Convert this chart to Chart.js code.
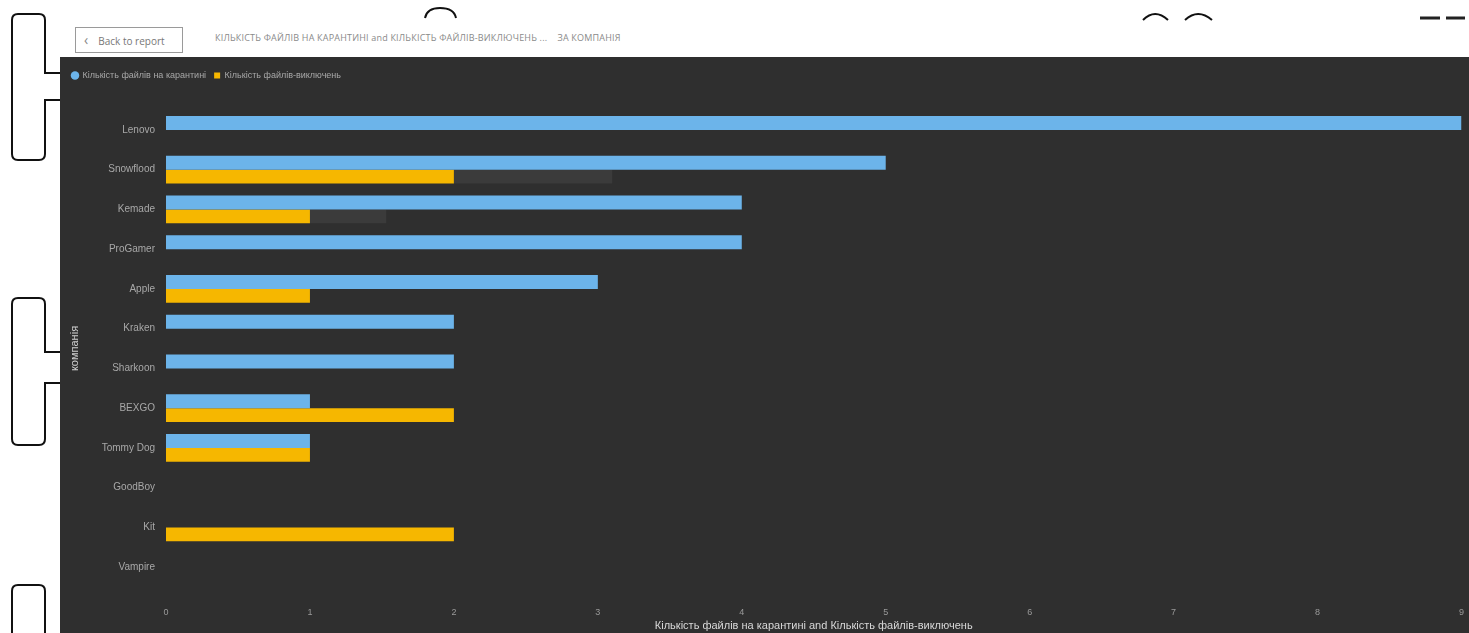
<!DOCTYPE html>
<html>
<head>
<meta charset="utf-8">
<script src="https://cdn.jsdelivr.net/npm/chart.js@4.4.0/dist/chart.umd.min.js"></script>
<style>
  html, body { margin: 0; padding: 0; background: #fff; }
  body { width: 1469px; height: 633px; position: relative; overflow: hidden; font-family: "Segoe UI", "Open Sans", sans-serif; }
  #back { position: absolute; left: 75px; top: 27px; width: 108px; height: 26px; border: 1px solid #9a9a9a; box-sizing: border-box; font-size: 10px; color: #777; line-height: 24px; padding-left: 8px; }
  #back span { font-size: 14px; margin-right: 10px; color: #888; }
  #title { position: absolute; left: 215px; top: 31px; font-size: 9px; color: #8a8a8a; letter-spacing: 0.2px; }
  #panel { position: absolute; left: 60px; top: 57px; width: 1409px; height: 576px; background: #2f2f2f; overflow: hidden; }
  #deco { position: absolute; left: 0; top: 0; }
</style>
</head>
<body>
<svg id="deco" width="1469" height="633">
  <g fill="none" stroke="#111" stroke-width="2">
    <path d="M60 73 H45 V20 Q45 14 39 14 H18 Q12 14 12 20 V154 Q12 160 18 160 H39 Q45 160 45 154 V100 H60"/>
    <path d="M60 352 H45 V304 Q45 298 39 298 H18 Q12 298 12 304 V439 Q12 445 18 445 H39 Q45 445 45 439 V383 H60"/>
    <path d="M45 640 V591 Q45 585 39 585 H18 Q12 585 12 591 V640"/>
    <path d="M1143 20 Q1155 8 1168 20"/>
    <path d="M1185 20 Q1198 8 1212 20"/>
    <path d="M425 18 Q427 8 440 8 Q454 8 456 18"/>
  </g>
  <g stroke="#222" stroke-width="3">
    <path d="M1420 18 H1440 M1446 18 H1465"/>
  </g>
</svg>
<div id="back"><span>&lsaquo;</span>Back to report</div>
<div id="title">КІЛЬКІСТЬ ФАЙЛІВ НА КАРАНТИНІ and КІЛЬКІСТЬ ФАЙЛІВ-ВИКЛЮЧЕНЬ ...&nbsp;&nbsp;&nbsp;&nbsp;ЗА КОМПАНІЯ</div>
<div id="panel"><canvas id="chart" width="1416" height="576"></canvas></div>
<script>
const companies = ['Lenovo', 'Snowflood', 'Kemade', 'ProGamer', 'Apple', 'Kraken', 'Sharkoon', 'BEXGO', 'Tommy Dog', 'GoodBoy', 'Kit', 'Vampire'];
const quarantine = [9, 5, 4, 4, 3, 2, 2, 1, 1, 0, 0, 0];
const exclusions = [0, 2, 1, 0, 1, 0, 0, 2, 1, 0, 2, 0];
// dark blocks drawn next to two of the yellow bars in the screenshot
const shadowBlocks = [0, 1.1, 0.53, 0, 0, 0, 0, 0, 0, 0, 0, 0];
const xTicks = [0, 1, 2, 3, 4, 5, 6, 7, 8, 9];

const seriesNames = ['Кількість файлів на карантині', 'Кількість файлів-виключень'];

// push the plot down a bit under the legend
const legendGap = {
  id: 'legendGap',
  beforeInit(chart) {
    const fit = chart.legend.fit;
    chart.legend.fit = function () {
      fit.bind(chart.legend)();
      this.height += 20;
    };
  }
};

const ctx = document.getElementById('chart').getContext('2d');
const chart = new Chart(ctx, {
  type: 'bar',
  data: {
    labels: companies,
    datasets: [
      {
        label: seriesNames[0],
        data: quarantine,
        backgroundColor: '#6cb4ea',
        stack: 'a',
        pointStyle: 'circle'
      },
      {
        label: seriesNames[1],
        data: exclusions,
        backgroundColor: '#f6b700',
        stack: 'b',
        pointStyle: 'rect'
      },
      {
        label: 'shadow',
        data: shadowBlocks,
        backgroundColor: '#3b3b3b',
        stack: 'b'
      }
    ]
  },
  plugins: [legendGap],
  options: {
    indexAxis: 'y',
    responsive: false,
    animation: false,
    datasets: {
      bar: { categoryPercentage: 0.7, barPercentage: 1.0, borderWidth: 0 }
    },
    layout: { padding: { left: 4, right: 0, top: 6, bottom: 0 } },
    plugins: {
      legend: {
        position: 'top',
        align: 'start',
        labels: {
          color: '#a8a8a8',
          font: { size: 9 },
          usePointStyle: true,
          boxWidth: 6,
          boxHeight: 6,
          padding: 8,
          filter: (item) => item.text !== 'shadow'
        }
      },
      tooltip: { enabled: false }
    },
    scales: {
      x: {
        stacked: true,
        min: 0,
        max: 9,
        grid: { display: false },
        border: { display: false },
        afterBuildTicks: (axis) => { axis.ticks = xTicks.map(v => ({ value: v })); },
        ticks: { color: '#9a9a9a', font: { size: 9 }, padding: 12 },
        title: {
          display: true,
          text: seriesNames[0] + ' and ' + seriesNames[1],
          color: '#d8d8d8',
          font: { size: 11 },
          padding: { top: 4, bottom: 0 }
        },
        afterFit: (axis) => { axis.height = 46; }
      },
      y: {
        stacked: true,
        grid: { display: false },
        border: { display: false },
        ticks: { color: '#a8a8a8', font: { size: 10 }, padding: 3 },
        title: {
          display: true,
          text: 'компанія',
          color: '#d0d0d0',
          font: { size: 11 },
          padding: { top: 4, bottom: 8 }
        },
        afterFit: (axis) => { axis.width = 102; }
      }
    }
  }
});
</script>
</body>
</html>
